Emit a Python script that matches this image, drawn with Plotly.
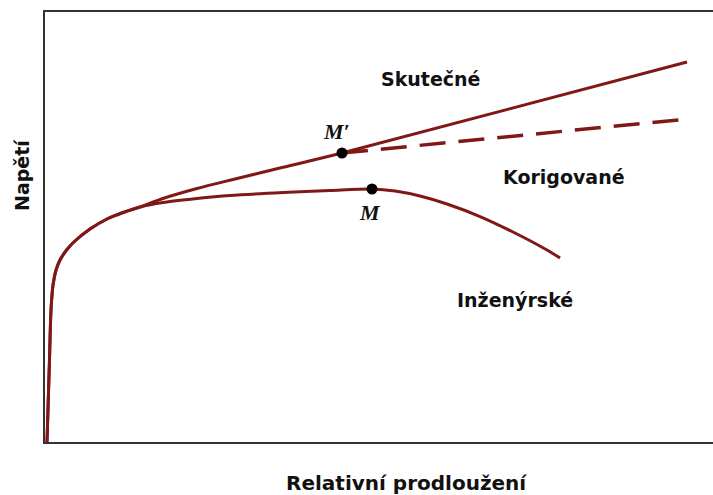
import plotly.graph_objects as go

# Stress–strain curves (arbitrary units: strain 0–100, stress 0–100)
# Shared elastic + early plastic part
base_x = [0.30, 0.67, 0.90, 1.20, 1.65, 2.25, 3.29, 4.49, 6.74, 9.28, 11.68, 14.22]
base_y = [0.00, 19.07, 30.70, 36.51, 40.00, 42.33, 44.77, 46.74, 49.53, 51.86, 53.37, 54.65]

# Engineering (Inženýrské) branch: peak at M, then necking
eng_x = [17.66, 22.75, 27.69, 35.63, 42.66, 48.95, 52.40, 56.14, 60.18, 65.12, 70.06, 75.15, 77.10]
eng_y = [55.70, 56.63, 57.33, 58.02, 58.49, 58.84, 58.37, 57.21, 55.35, 52.44, 48.84, 44.65, 42.79]

# True stress (Skutečné) branch
true_x = [17.66, 22.75, 28.14, 35.63, 44.46, 96.11]
true_y = [56.63, 58.95, 61.05, 63.88, 67.21, 88.37]

# Corrected (Korigované) extension from M'
corr_x = [44.46, 96.26]
corr_y = [67.21, 75.12]

# Marked points
pt_m = (48.95, 58.84)
pt_mp = (44.46, 67.21)

LINE = "#801818"
TXT = "#111111"
LBL_FONT = dict(family="DejaVu Sans", size=19, color=TXT)

fig = go.Figure()
fig.add_trace(go.Scatter(x=base_x + eng_x, y=base_y + eng_y, mode="lines",
                         line=dict(color=LINE, width=3, shape="spline", smoothing=0.8)))
fig.add_trace(go.Scatter(x=base_x + true_x, y=base_y + true_y, mode="lines",
                         line=dict(color=LINE, width=3, shape="spline", smoothing=0.8)))
fig.add_trace(go.Scatter(x=corr_x, y=corr_y, mode="lines",
                         line=dict(color=LINE, width=3.5, dash="26px,13px")))
fig.add_trace(go.Scatter(x=[pt_m[0], pt_mp[0]], y=[pt_m[1], pt_mp[1]], mode="markers",
                         marker=dict(color="black", size=11)))

labels = [
    ("<b>Skutečné</b>", 57.8, 84.4),
    ("<b>Korigované</b>", 77.7, 61.6),
    ("<b>Inženýrské</b>", 70.4, 33.0),
]
for txt, x, y in labels:
    fig.add_annotation(x=x, y=y, text=txt, showarrow=False, font=LBL_FONT)

fig.add_annotation(x=43.7, y=72.1, text="<b><i>M′</i></b>", showarrow=False,
                   font=dict(family="Liberation Serif", size=22, color=TXT))
fig.add_annotation(x=48.7, y=53.3, text="<b><i>M</i></b>", showarrow=False,
                   font=dict(family="Liberation Serif", size=22, color=TXT))

# Axis titles
fig.add_annotation(xref="paper", yref="paper", x=(406 - 45) / 668, y=(442 - 483) / 430,
                   xanchor="center", yanchor="middle",
                   text="<b>Relativní prodloužení</b>", showarrow=False,
                   font=dict(family="DejaVu Sans", size=20, color=TXT))
fig.add_annotation(xref="paper", yref="paper", x=(22 - 45) / 668, y=(442 - 175) / 430,
                   xanchor="center", yanchor="middle",
                   text="<b>Napětí</b>", showarrow=False, textangle=-90,
                   font=dict(family="DejaVu Sans", size=19, color=TXT))

fig.update_layout(
    width=713, height=495,
    margin=dict(l=45, r=0, t=12, b=53),
    paper_bgcolor="white", plot_bgcolor="white",
    showlegend=False,
    xaxis=dict(range=[0, 100], showgrid=False, zeroline=False, showticklabels=False,
               ticks="", showline=True, linecolor="#333333", linewidth=2, mirror=True),
    yaxis=dict(range=[0, 100], showgrid=False, zeroline=False, showticklabels=False,
               ticks="", showline=True, linecolor="#333333", linewidth=2, mirror=False),
)

fig.write_html("out.html")
